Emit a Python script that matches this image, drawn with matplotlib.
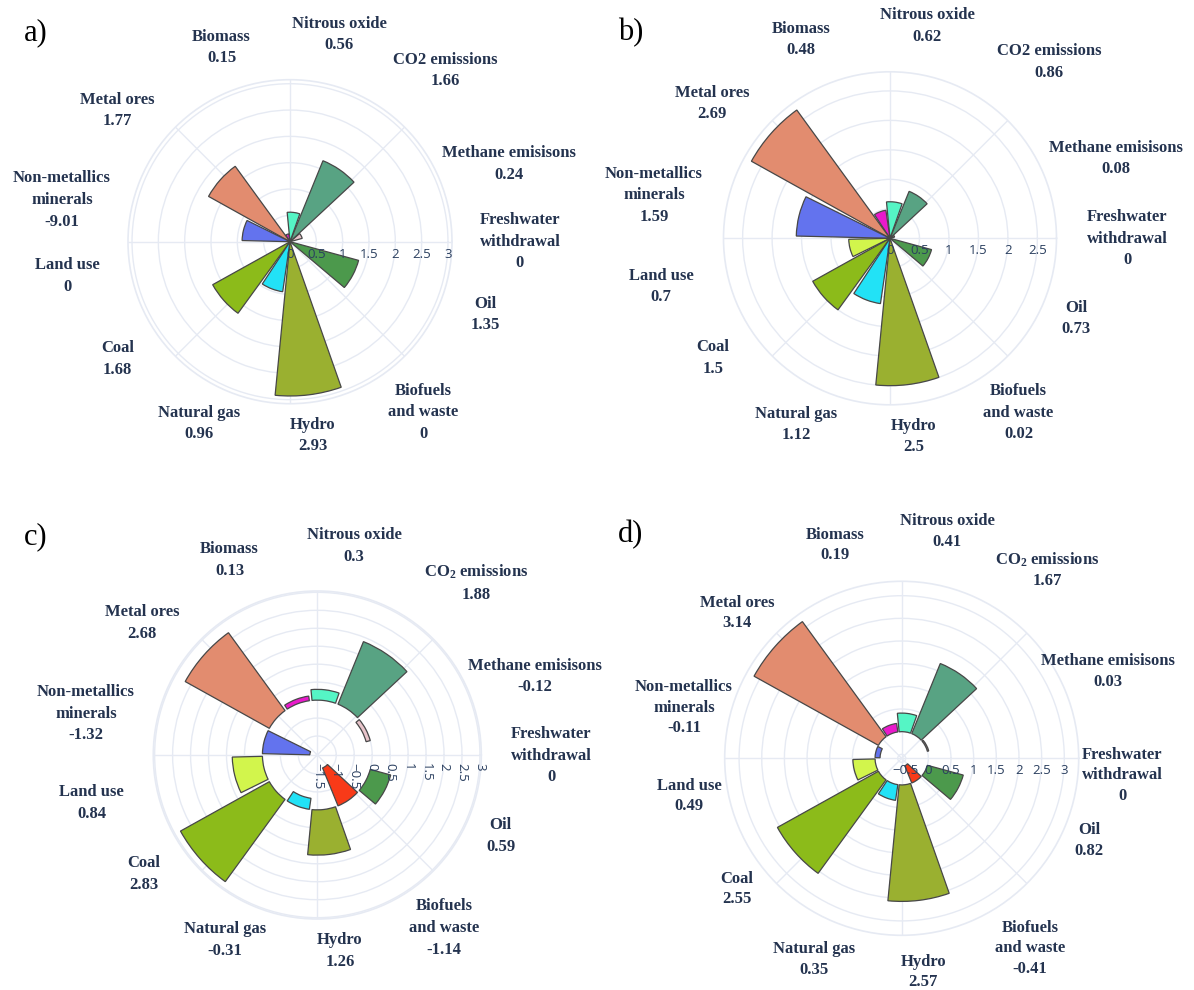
import numpy as np
import matplotlib
matplotlib.use("Agg")
import matplotlib.pyplot as plt

plt.rcParams["mathtext.default"] = "regular"

W, H = 1194, 990

# categories go counter-clockwise starting at due east
categories = ["Freshwater\nwithdrawal", "Methane emisisons", "CO2 emissions", "Nitrous oxide",
              "Biomass", "Metal ores", "Non-metallics\nminerals", "Land use", "Coal",
              "Natural gas", "Hydro", "Biofuels\nand waste", "Oil"]
categories_sub = [c.replace("CO2", "CO$_2$") for c in categories]

colors = ["#B0C4DE", "#E8C4CA", "#58A383", "#55F5C5", "#E91ACB", "#E28C6F", "#6373EE",
          "#D2F54C", "#8CBB1A", "#22E2F6", "#9AB030", "#F83A18", "#4C994C"]

values_a = [0, 0.24, 1.66, 0.56, 0.15, 1.77, 0.91, 0, 1.68, 0.96, 2.93, 0, 1.35]
values_b = [0, 0.08, 0.86, 0.62, 0.48, 2.69, 1.59, 0.7, 1.5, 1.12, 2.5, 0.02, 0.73]
values_c = [0, -0.12, 1.88, 0.3, 0.13, 2.68, -1.32, 0.84, 2.83, -0.31, 1.26, -1.14, 0.59]
values_d = [0, 0.03, 1.67, 0.41, 0.19, 3.14, -0.11, 0.49, 2.55, 0.35, 2.57, -0.41, 0.82]

# printed value that differs from the bar height
printed_a = {6: "-9.01"}

ticks_a = [0, 0.5, 1, 1.5, 2, 2.5, 3]
ticks_b = [0, 0.5, 1, 1.5, 2, 2.5]
ticks_c = [-1.5, -1, -0.5, 0, 0.5, 1, 1.5, 2, 2.5, 3]
ticks_d = [-0.5, 0, 0.5, 1, 1.5, 2, 2.5, 3]

GRID = "#E6EAF3"
TXT = "#24334f"

# pixel layout of each panel: centre, outer radius, label block centres
panels = [
    dict(letter="a)", letter_xy=(36, 33), values=values_a, printed=printed_a, ticks=ticks_a,
         names=categories, center=(290, 241.7), radius=162, tick_rot=0, spacing=1.46,
         label_xy=[(520, 241.7), (509, 164), (445, 70.3), (339, 34.5), (221.5, 47.5),
                   (117.7, 110.3), (62, 200), (67.3, 276), (117.7, 358.8), (199, 423.7),
                   (313, 435.3), (423, 412.3), (485.6, 314.5)]),
    dict(letter="b)", letter_xy=(631, 33), values=values_b, printed={}, ticks=ticks_b,
         names=categories, center=(890, 238.3), radius=166.5, tick_rot=0, spacing=1.46,
         label_xy=[(1127, 238.6), (1116, 158.3), (1049, 62), (927.3, 26.2), (801.3, 39.5),
                   (712, 103.3), (654, 195.3), (661, 286.3), (713, 358), (796.5, 424.7),
                   (914, 436.7), (1018.5, 412.6), (1076.3, 318.7)]),
    dict(letter="c)", letter_xy=(36, 537), values=values_c, printed={}, ticks=ticks_c,
         names=categories_sub, center=(317.3, 755), radius=164, tick_rot=-90, spacing=1.47,
         label_xy=[(551, 755.8), (535, 676.5), (476, 583), (354, 546.3), (229.6, 559.7),
                   (142, 623), (86, 713.7), (91.5, 803), (143.5, 874), (225, 939.7),
                   (340, 951.3), (444, 928.1), (500.7, 835.8)]),
    dict(letter="d)", letter_xy=(631, 535), values=values_d, printed={}, ticks=ticks_d,
         names=categories_sub, center=(901.7, 758.3), radius=177, tick_rot=0, spacing=1.37,
         label_xy=[(1122.5, 775.3), (1108.4, 671.7), (1047.5, 569.7), (947.3, 531.7),
                   (835, 545), (737.3, 613), (684, 707.9), (689.3, 796.2), (737, 888.8),
                   (814, 959.7), (923.3, 972.2), (1029.8, 948.3), (1089, 840.5)]),
]


def fmt(v):
    return f"{v:g}"


n = len(categories)
theta = np.arange(n) * 2 * np.pi / n
width = 0.9 * 2 * np.pi / n

fig = plt.figure(figsize=(W / 100, H / 100), dpi=100)

for p in panels:
    cx, cy = p["center"]
    R = p["radius"]
    ax = fig.add_axes([(cx - R) / W, 1 - (cy + R) / H, 2 * R / W, 2 * R / H],
                      projection="polar")
    vals = np.array(p["values"], dtype=float)

    # autorange with 5% padding, anchored at zero when nothing is negative
    lo = min(0.0, vals.min())
    hi = vals.max()
    span = hi - lo
    rmin = lo - 0.05 * span if lo < 0 else 0.0
    rmax = hi + 0.05 * span
    ax.set_ylim(rmin, rmax)

    ax.set_axisbelow(True)
    ax.set_xticks(np.deg2rad(np.arange(0, 360, 45)))
    ax.set_xticklabels([])
    ax.set_yticks(p["ticks"])
    ax.set_yticklabels([])
    ax.grid(color=GRID, lw=1)
    ax.spines["polar"].set_color(GRID)
    ax.spines["polar"].set_linewidth(1.2)
    ax.tick_params(length=0)

    for th, v, col in zip(theta, vals, colors):
        if v == 0:
            continue
        ax.bar(th, v, width=width, bottom=0, color=col, edgecolor="#474747",
               linewidth=0.9, zorder=3)

    for t in p["ticks"]:
        s = fmt(t).replace("-", "\u2212")
        if p["tick_rot"] == 0:
            ax.annotate(s, xy=(0, t), xytext=(0, -9), textcoords="offset points",
                        ha="center", va="center", fontsize=9.5, family="Open Sans",
                        color="#2a3f5f", annotation_clip=False, zorder=4)
        else:
            ax.annotate(s, xy=(0, t), xytext=(0, -6), textcoords="offset points",
                        ha="center", va="top", rotation=p["tick_rot"], fontsize=9.5,
                        family="Open Sans", color="#2a3f5f", annotation_clip=False, zorder=4)

    for i, (name, (lx, ly)) in enumerate(zip(p["names"], p["label_xy"])):
        shown = p["printed"].get(i, fmt(vals[i]))
        fig.text(lx / W, 1 - ly / H, f"{name}\n{shown}", ha="center", va="center",
                 multialignment="center", fontsize=12, fontweight="bold",
                 family="Liberation Serif", color=TXT, linespacing=p["spacing"])

    lx, ly = p["letter_xy"]
    fig.text(lx / W, 1 - ly / H, p["letter"], ha="center", va="center", fontsize=22,
             family="Liberation Serif", color="black")

fig.savefig("out.png", dpi=100)
